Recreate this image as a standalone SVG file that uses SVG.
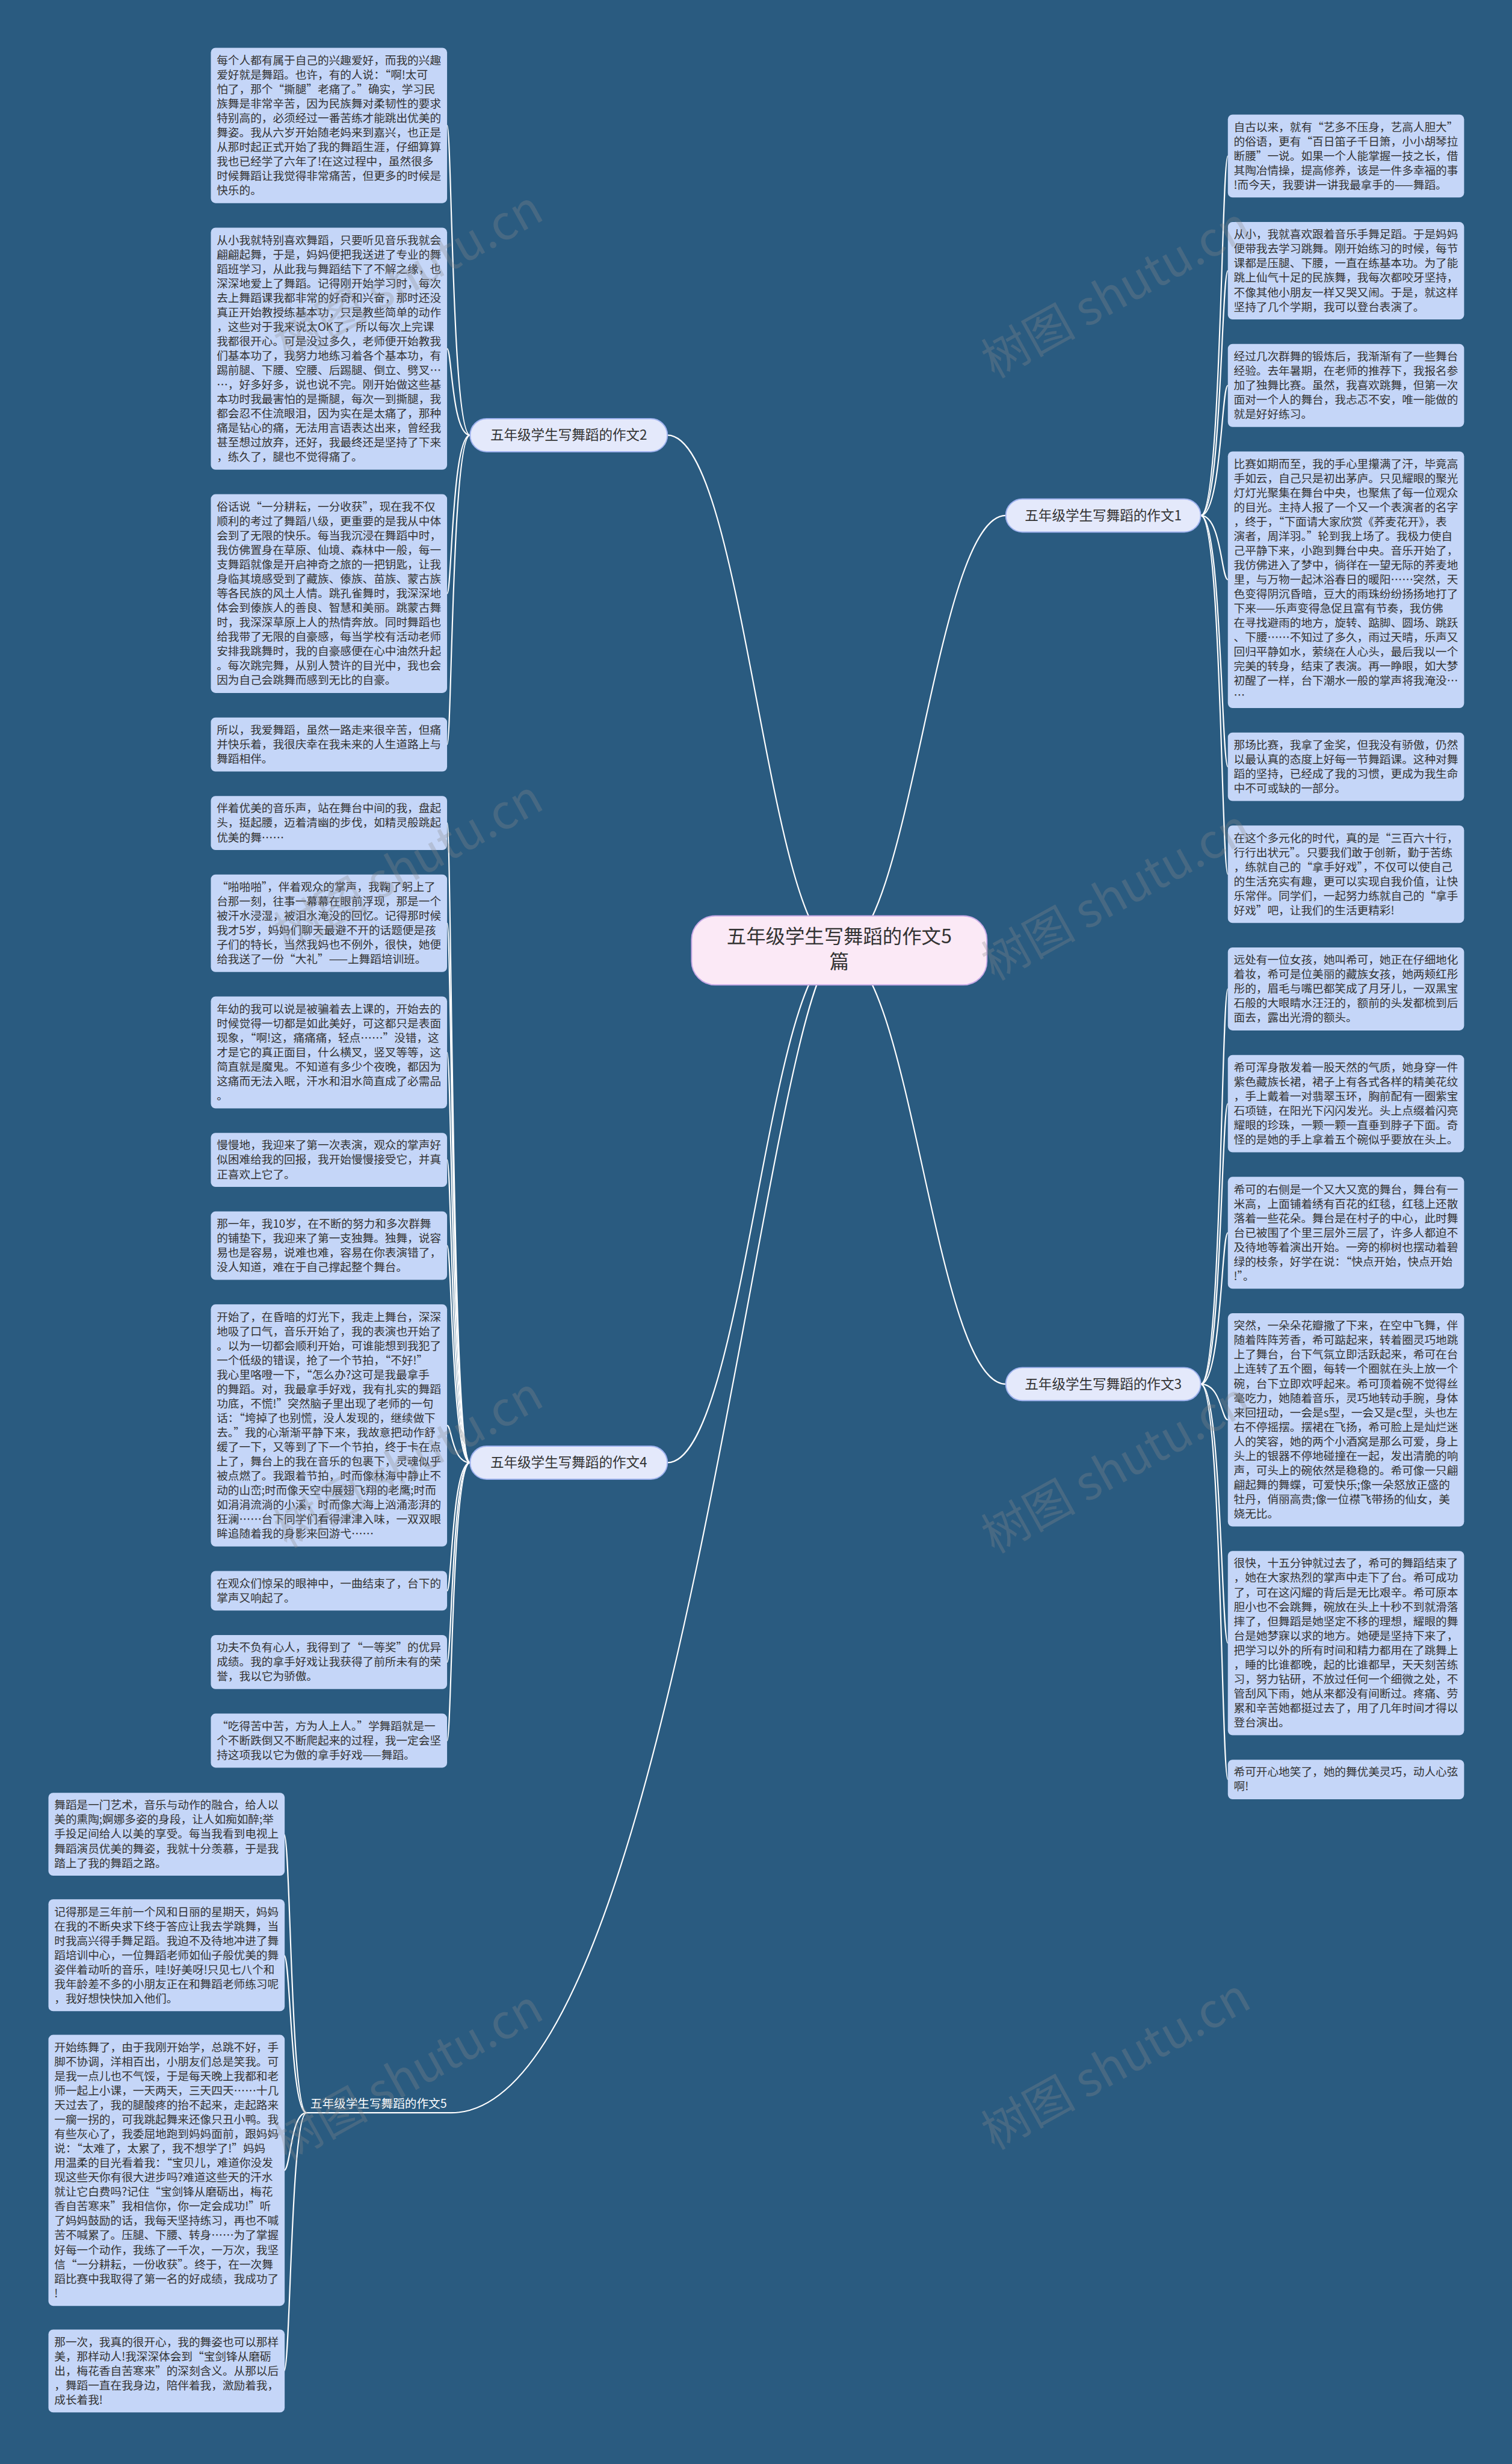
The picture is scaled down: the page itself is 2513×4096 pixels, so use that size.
<svg xmlns="http://www.w3.org/2000/svg" width="2513" height="4096" viewBox="0 0 2513 4096">
<style>
.bg{fill:#2a5b80}
.leaf rect{fill:#c5d6f8}
.leaf text{font-family:"Noto Sans CJK SC","Liberation Sans",sans-serif;font-size:19px;fill:#333}
.conn path{fill:none;stroke:#ffffff;stroke-width:2.2}
.branch rect{fill:#e4e9fb;stroke:#9fb2ee;stroke-width:2}
.branch text{font-family:"Noto Sans CJK SC","Liberation Sans",sans-serif;font-size:23px;fill:#333;text-anchor:middle}
.root rect{fill:#fbe9f6;stroke:#c7a9e6;stroke-width:2}
.root text{font-family:"Noto Sans CJK SC","Liberation Sans",sans-serif;font-size:33px;fill:#333;text-anchor:middle}
.wm text{font-family:"Noto Sans CJK SC","Liberation Sans",sans-serif;font-size:80px;fill:#8a8a8a;fill-opacity:0.3;text-anchor:middle}
</style>
<rect class="bg" x="0" y="0" width="2513" height="4096"/>
<g transform="scale(0.9816)">
<g id="connectors" class="conn">
<path d="M1421 1610 C1300 1610 1260 737 1130 737"/>
<path d="M1421 1610 C1542 1610 1582 873 1703 873"/>
<path d="M1421 1610 C1542 1610 1582 2344 1703 2344"/>
<path d="M1421 1610 C1300 1610 1260 2477 1130 2477"/>
<path d="M1421 1610 C1300 1610 1150 3578 764 3578"/>
<path d="M796 737 C765 737 765 212.5 757 212.5"/>
<path d="M796 737 C765 737 765 590.5 757 590.5"/>
<path d="M796 737 C765 737 765 1005.25 757 1005.25"/>
<path d="M796 737 C765 737 765 1260.75 757 1260.75"/>
<path d="M796 2477 C765 2477 765 1393.75 757 1393.75"/>
<path d="M796 2477 C765 2477 765 1563.5 757 1563.5"/>
<path d="M796 2477 C765 2477 765 1782.25 757 1782.25"/>
<path d="M796 2477 C765 2477 765 1964.25 757 1964.25"/>
<path d="M796 2477 C765 2477 765 2109.5 757 2109.5"/>
<path d="M796 2477 C765 2477 765 2414 757 2414"/>
<path d="M796 2477 C765 2477 765 2694 757 2694"/>
<path d="M796 2477 C765 2477 765 2814.75 757 2814.75"/>
<path d="M796 2477 C765 2477 765 2947.75 757 2947.75"/>
<path d="M2033 873 C2068 873 2068 264.25 2079 264.25"/>
<path d="M2033 873 C2068 873 2068 458.5 2079 458.5"/>
<path d="M2033 873 C2068 873 2068 652.75 2079 652.75"/>
<path d="M2033 873 C2068 873 2068 981.75 2079 981.75"/>
<path d="M2033 873 C2068 873 2068 1298.5 2079 1298.5"/>
<path d="M2033 873 C2068 873 2068 1480.5 2079 1480.5"/>
<path d="M2033 2344 C2068 2344 2068 1674.75 2079 1674.75"/>
<path d="M2033 2344 C2068 2344 2068 1869 2079 1869"/>
<path d="M2033 2344 C2068 2344 2068 2087.75 2079 2087.75"/>
<path d="M2033 2344 C2068 2344 2068 2404.5 2079 2404.5"/>
<path d="M2033 2344 C2068 2344 2068 2782.5 2079 2782.5"/>
<path d="M2033 2344 C2068 2344 2068 3013.5 2079 3013.5"/>
<path d="M519 3578 C492 3578 492 3106.25 481 3106.25"/>
<path d="M519 3578 C492 3578 492 3311.25 481 3311.25"/>
<path d="M519 3578 C492 3578 492 3675.5 481 3675.5"/>
<path d="M519 3578 C492 3578 492 4015.25 481 4015.25"/>
<path d="M519 3578 L764 3578"/>
</g>
<g id="root" class="root">
<rect x="1171" y="1551" width="500" height="117" rx="40"/>
<text x="1421" y="1597">五年级学生写舞蹈的作文5</text>
<text x="1421" y="1640">篇</text>
</g>
<g id="branch2" class="branch"><rect x="796" y="709" width="334" height="56" rx="28"/><text x="963" y="745">五年级学生写舞蹈的作文2</text></g>
<g id="branch1" class="branch"><rect x="1703" y="845" width="330" height="56" rx="28"/><text x="1868" y="881">五年级学生写舞蹈的作文1</text></g>
<g id="branch3" class="branch"><rect x="1703" y="2316" width="330" height="56" rx="28"/><text x="1868" y="2352">五年级学生写舞蹈的作文3</text></g>
<g id="branch4" class="branch"><rect x="796" y="2449" width="334" height="56" rx="28"/><text x="963" y="2485">五年级学生写舞蹈的作文4</text></g>
<g id="branch5" class="branch"><text x="641" y="3570" style="font-size:20px;fill:#ffffff">五年级学生写舞蹈的作文5</text></g>

<g id="b1" class="leaf"><rect x="357" y="81" width="400" height="263" rx="8"/><text x="367" y="108.75"><tspan x="367" dy="0">每个人都有属于自己的兴趣爱好，而我的兴趣</tspan><tspan x="367" dy="24.5">爱好就是舞蹈。也许，有的人说：“啊!太可</tspan><tspan x="367" dy="24.5">怕了，那个“撕腿”老痛了。”确实，学习民</tspan><tspan x="367" dy="24.5">族舞是非常辛苦，因为民族舞对柔韧性的要求</tspan><tspan x="367" dy="24.5">特别高的，必须经过一番苦练才能跳出优美的</tspan><tspan x="367" dy="24.5">舞姿。我从六岁开始随老妈来到嘉兴，也正是</tspan><tspan x="367" dy="24.5">从那时起正式开始了我的舞蹈生涯，仔细算算</tspan><tspan x="367" dy="24.5">我也已经学了六年了!在这过程中，虽然很多</tspan><tspan x="367" dy="24.5">时候舞蹈让我觉得非常痛苦，但更多的时候是</tspan><tspan x="367" dy="24.5">快乐的。</tspan></text></g>
<g id="b2" class="leaf"><rect x="357" y="385.5" width="400" height="410" rx="8"/><text x="367" y="413.25"><tspan x="367" dy="0">从小我就特别喜欢舞蹈，只要听见音乐我就会</tspan><tspan x="367" dy="24.5">翩翩起舞，于是，妈妈便把我送进了专业的舞</tspan><tspan x="367" dy="24.5">蹈班学习，从此我与舞蹈结下了不解之缘，也</tspan><tspan x="367" dy="24.5">深深地爱上了舞蹈。记得刚开始学习时，每次</tspan><tspan x="367" dy="24.5">去上舞蹈课我都非常的好奇和兴奋，那时还没</tspan><tspan x="367" dy="24.5">真正开始教授练基本功，只是教些简单的动作</tspan><tspan x="367" dy="24.5">，这些对于我来说太OK了，所以每次上完课</tspan><tspan x="367" dy="24.5">我都很开心。可是没过多久，老师便开始教我</tspan><tspan x="367" dy="24.5">们基本功了，我努力地练习着各个基本功，有</tspan><tspan x="367" dy="24.5">踢前腿、下腰、空腰、后踢腿、倒立、劈叉…</tspan><tspan x="367" dy="24.5">…，好多好多，说也说不完。刚开始做这些基</tspan><tspan x="367" dy="24.5">本功时我最害怕的是撕腿，每次一到撕腿，我</tspan><tspan x="367" dy="24.5">都会忍不住流眼泪，因为实在是太痛了，那种</tspan><tspan x="367" dy="24.5">痛是钻心的痛，无法用言语表达出来，曾经我</tspan><tspan x="367" dy="24.5">甚至想过放弃，还好，我最终还是坚持了下来</tspan><tspan x="367" dy="24.5">，练久了，腿也不觉得痛了。</tspan></text></g>
<g id="b3" class="leaf"><rect x="357" y="837" width="400" height="336.5" rx="8"/><text x="367" y="864.75"><tspan x="367" dy="0">俗话说“一分耕耘，一分收获”，现在我不仅</tspan><tspan x="367" dy="24.5">顺利的考过了舞蹈八级，更重要的是我从中体</tspan><tspan x="367" dy="24.5">会到了无限的快乐。每当我沉浸在舞蹈中时，</tspan><tspan x="367" dy="24.5">我仿佛置身在草原、仙境、森林中一般，每一</tspan><tspan x="367" dy="24.5">支舞蹈就像是开启神奇之旅的一把钥匙，让我</tspan><tspan x="367" dy="24.5">身临其境感受到了藏族、傣族、苗族、蒙古族</tspan><tspan x="367" dy="24.5">等各民族的风土人情。跳孔雀舞时，我深深地</tspan><tspan x="367" dy="24.5">体会到傣族人的善良、智慧和美丽。跳蒙古舞</tspan><tspan x="367" dy="24.5">时，我深深草原上人的热情奔放。同时舞蹈也</tspan><tspan x="367" dy="24.5">给我带了无限的自豪感，每当学校有活动老师</tspan><tspan x="367" dy="24.5">安排我跳舞时，我的自豪感便在心中油然升起</tspan><tspan x="367" dy="24.5">。每次跳完舞，从别人赞许的目光中，我也会</tspan><tspan x="367" dy="24.5">因为自己会跳舞而感到无比的自豪。</tspan></text></g>
<g id="b4" class="leaf"><rect x="357" y="1215" width="400" height="91.5" rx="8"/><text x="367" y="1242.75"><tspan x="367" dy="0">所以，我爱舞蹈，虽然一路走来很辛苦，但痛</tspan><tspan x="367" dy="24.5">并快乐着，我很庆幸在我未来的人生道路上与</tspan><tspan x="367" dy="24.5">舞蹈相伴。</tspan></text></g>

<g id="c1" class="leaf"><rect x="357" y="1348" width="400" height="91.5" rx="8"/><text x="367" y="1375.75"><tspan x="367" dy="0">伴着优美的音乐声，站在舞台中间的我，盘起</tspan><tspan x="367" dy="24.5">头，挺起腰，迈着清幽的步伐，如精灵般跳起</tspan><tspan x="367" dy="24.5">优美的舞……</tspan></text></g>
<g id="c2" class="leaf"><rect x="357" y="1481" width="400" height="165" rx="8"/><text x="367" y="1508.75"><tspan x="367" dy="0">“啪啪啪”，伴着观众的掌声，我鞠了躬上了</tspan><tspan x="367" dy="24.5">台那一刻，往事一幕幕在眼前浮现，那是一个</tspan><tspan x="367" dy="24.5">被汗水浸湿，被泪水淹没的回忆。记得那时候</tspan><tspan x="367" dy="24.5">我才5岁，妈妈们聊天最避不开的话题便是孩</tspan><tspan x="367" dy="24.5">子们的特长，当然我妈也不例外，很快，她便</tspan><tspan x="367" dy="24.5">给我送了一份“大礼”——上舞蹈培训班。</tspan></text></g>
<g id="c3" class="leaf"><rect x="357" y="1687.5" width="400" height="189.5" rx="8"/><text x="367" y="1715.25"><tspan x="367" dy="0">年幼的我可以说是被骗着去上课的，开始去的</tspan><tspan x="367" dy="24.5">时候觉得一切都是如此美好，可这都只是表面</tspan><tspan x="367" dy="24.5">现象，“啊!这，痛痛痛，轻点……”没错，这</tspan><tspan x="367" dy="24.5">才是它的真正面目，什么横叉，竖叉等等，这</tspan><tspan x="367" dy="24.5">简直就是魔鬼。不知道有多少个夜晚，都因为</tspan><tspan x="367" dy="24.5">这痛而无法入眠，汗水和泪水简直成了必需品</tspan><tspan x="367" dy="24.5">。</tspan></text></g>
<g id="c4" class="leaf"><rect x="357" y="1918.5" width="400" height="91.5" rx="8"/><text x="367" y="1946.25"><tspan x="367" dy="0">慢慢地，我迎来了第一次表演，观众的掌声好</tspan><tspan x="367" dy="24.5">似困难给我的回报，我开始慢慢接受它，并真</tspan><tspan x="367" dy="24.5">正喜欢上它了。</tspan></text></g>
<g id="c5" class="leaf"><rect x="357" y="2051.5" width="400" height="116" rx="8"/><text x="367" y="2079.25"><tspan x="367" dy="0">那一年，我10岁，在不断的努力和多次群舞</tspan><tspan x="367" dy="24.5">的铺垫下，我迎来了第一支独舞。独舞，说容</tspan><tspan x="367" dy="24.5">易也是容易，说难也难，容易在你表演错了，</tspan><tspan x="367" dy="24.5">没人知道，难在于自己撑起整个舞台。</tspan></text></g>
<g id="c6" class="leaf"><rect x="357" y="2209" width="400" height="410" rx="8"/><text x="367" y="2236.75"><tspan x="367" dy="0">开始了，在昏暗的灯光下，我走上舞台，深深</tspan><tspan x="367" dy="24.5">地吸了口气，音乐开始了，我的表演也开始了</tspan><tspan x="367" dy="24.5">。以为一切都会顺利开始，可谁能想到我犯了</tspan><tspan x="367" dy="24.5">一个低级的错误，抢了一个节拍，“不好!”</tspan><tspan x="367" dy="24.5">我心里咯噔一下，“怎么办?这可是我最拿手</tspan><tspan x="367" dy="24.5">的舞蹈。对，我最拿手好戏，我有扎实的舞蹈</tspan><tspan x="367" dy="24.5">功底，不慌!”突然脑子里出现了老师的一句</tspan><tspan x="367" dy="24.5">话：“垮掉了也别慌，没人发现的，继续做下</tspan><tspan x="367" dy="24.5">去。”我的心渐渐平静下来，我故意把动作舒</tspan><tspan x="367" dy="24.5">缓了一下，又等到了下一个节拍，终于卡在点</tspan><tspan x="367" dy="24.5">上了，舞台上的我在音乐的包裹下，灵魂似乎</tspan><tspan x="367" dy="24.5">被点燃了。我跟着节拍，时而像林海中静止不</tspan><tspan x="367" dy="24.5">动的山峦;时而像天空中展翅飞翔的老鹰;时而</tspan><tspan x="367" dy="24.5">如涓涓流淌的小溪，时而像大海上汹涌澎湃的</tspan><tspan x="367" dy="24.5">狂澜……台下同学们看得津津入味，一双双眼</tspan><tspan x="367" dy="24.5">眸追随着我的身影来回游弋……</tspan></text></g>
<g id="c7" class="leaf"><rect x="357" y="2660.5" width="400" height="67" rx="8"/><text x="367" y="2688.25"><tspan x="367" dy="0">在观众们惊呆的眼神中，一曲结束了，台下的</tspan><tspan x="367" dy="24.5">掌声又响起了。</tspan></text></g>
<g id="c8" class="leaf"><rect x="357" y="2769" width="400" height="91.5" rx="8"/><text x="367" y="2796.75"><tspan x="367" dy="0">功夫不负有心人，我得到了“一等奖”的优异</tspan><tspan x="367" dy="24.5">成绩。我的拿手好戏让我获得了前所未有的荣</tspan><tspan x="367" dy="24.5">誉，我以它为骄傲。</tspan></text></g>
<g id="c9" class="leaf"><rect x="357" y="2902" width="400" height="91.5" rx="8"/><text x="367" y="2929.75"><tspan x="367" dy="0">“吃得苦中苦，方为人上人。”学舞蹈就是一</tspan><tspan x="367" dy="24.5">个不断跌倒又不断爬起来的过程，我一定会坚</tspan><tspan x="367" dy="24.5">持这项我以它为傲的拿手好戏——舞蹈。</tspan></text></g>

<g id="r1" class="leaf"><rect x="2079" y="194" width="400" height="140.5" rx="8"/><text x="2089" y="221.75"><tspan x="2089" dy="0">自古以来，就有“艺多不压身，艺高人胆大”</tspan><tspan x="2089" dy="24.5">的俗语，更有“百日笛子千日箫，小小胡琴拉</tspan><tspan x="2089" dy="24.5">断腰”一说。如果一个人能掌握一技之长，借</tspan><tspan x="2089" dy="24.5">其陶冶情操，提高修养，该是一件多幸福的事</tspan><tspan x="2089" dy="24.5">!而今天，我要讲一讲我最拿手的——舞蹈。</tspan></text></g>
<g id="r2" class="leaf"><rect x="2079" y="376" width="400" height="165" rx="8"/><text x="2089" y="403.75"><tspan x="2089" dy="0">从小，我就喜欢跟着音乐手舞足蹈。于是妈妈</tspan><tspan x="2089" dy="24.5">便带我去学习跳舞。刚开始练习的时候，每节</tspan><tspan x="2089" dy="24.5">课都是压腿、下腰，一直在练基本功。为了能</tspan><tspan x="2089" dy="24.5">跳上仙气十足的民族舞，我每次都咬牙坚持，</tspan><tspan x="2089" dy="24.5">不像其他小朋友一样又哭又闹。于是，就这样</tspan><tspan x="2089" dy="24.5">坚持了几个学期，我可以登台表演了。</tspan></text></g>
<g id="r3" class="leaf"><rect x="2079" y="582.5" width="400" height="140.5" rx="8"/><text x="2089" y="610.25"><tspan x="2089" dy="0">经过几次群舞的锻炼后，我渐渐有了一些舞台</tspan><tspan x="2089" dy="24.5">经验。去年暑期，在老师的推荐下，我报名参</tspan><tspan x="2089" dy="24.5">加了独舞比赛。虽然，我喜欢跳舞，但第一次</tspan><tspan x="2089" dy="24.5">面对一个人的舞台，我忐忑不安，唯一能做的</tspan><tspan x="2089" dy="24.5">就是好好练习。</tspan></text></g>
<g id="r4" class="leaf"><rect x="2079" y="764.5" width="400" height="434.5" rx="8"/><text x="2089" y="792.25"><tspan x="2089" dy="0">比赛如期而至，我的手心里攥满了汗，毕竟高</tspan><tspan x="2089" dy="24.5">手如云，自己只是初出茅庐。只见耀眼的聚光</tspan><tspan x="2089" dy="24.5">灯灯光聚集在舞台中央，也聚焦了每一位观众</tspan><tspan x="2089" dy="24.5">的目光。主持人报了一个又一个表演者的名字</tspan><tspan x="2089" dy="24.5">，终于，“下面请大家欣赏《荞麦花开》，表</tspan><tspan x="2089" dy="24.5">演者，周洋羽。”轮到我上场了。我极力使自</tspan><tspan x="2089" dy="24.5">己平静下来，小跑到舞台中央。音乐开始了，</tspan><tspan x="2089" dy="24.5">我仿佛进入了梦中，徜徉在一望无际的荞麦地</tspan><tspan x="2089" dy="24.5">里，与万物一起沐浴春日的暖阳……突然，天</tspan><tspan x="2089" dy="24.5">色变得阴沉昏暗，豆大的雨珠纷纷扬扬地打了</tspan><tspan x="2089" dy="24.5">下来——乐声变得急促且富有节奏，我仿佛</tspan><tspan x="2089" dy="24.5">在寻找避雨的地方，旋转、踮脚、圆场、跳跃</tspan><tspan x="2089" dy="24.5">、下腰……不知过了多久，雨过天晴，乐声又</tspan><tspan x="2089" dy="24.5">回归平静如水，萦绕在人心头，最后我以一个</tspan><tspan x="2089" dy="24.5">完美的转身，结束了表演。再一睁眼，如大梦</tspan><tspan x="2089" dy="24.5">初醒了一样，台下潮水一般的掌声将我淹没…</tspan><tspan x="2089" dy="24.5">…</tspan></text></g>
<g id="r5" class="leaf"><rect x="2079" y="1240.5" width="400" height="116" rx="8"/><text x="2089" y="1268.25"><tspan x="2089" dy="0">那场比赛，我拿了金奖，但我没有骄傲，仍然</tspan><tspan x="2089" dy="24.5">以最认真的态度上好每一节舞蹈课。这种对舞</tspan><tspan x="2089" dy="24.5">蹈的坚持，已经成了我的习惯，更成为我生命</tspan><tspan x="2089" dy="24.5">中不可或缺的一部分。</tspan></text></g>
<g id="r6" class="leaf"><rect x="2079" y="1398" width="400" height="165" rx="8"/><text x="2089" y="1425.75"><tspan x="2089" dy="0">在这个多元化的时代，真的是“三百六十行，</tspan><tspan x="2089" dy="24.5">行行出状元”。只要我们敢于创新，勤于苦练</tspan><tspan x="2089" dy="24.5">，练就自己的“拿手好戏”，不仅可以使自己</tspan><tspan x="2089" dy="24.5">的生活充实有趣，更可以实现自我价值，让快</tspan><tspan x="2089" dy="24.5">乐常伴。同学们，一起努力练就自己的“拿手</tspan><tspan x="2089" dy="24.5">好戏”吧，让我们的生活更精彩!</tspan></text></g>

<g id="s1" class="leaf"><rect x="2079" y="1604.5" width="400" height="140.5" rx="8"/><text x="2089" y="1632.25"><tspan x="2089" dy="0">远处有一位女孩，她叫希可，她正在仔细地化</tspan><tspan x="2089" dy="24.5">着妆，希可是位美丽的藏族女孩，她两颊红彤</tspan><tspan x="2089" dy="24.5">彤的，眉毛与嘴巴都笑成了月牙儿，一双黑宝</tspan><tspan x="2089" dy="24.5">石般的大眼睛水汪汪的，额前的头发都梳到后</tspan><tspan x="2089" dy="24.5">面去，露出光滑的额头。</tspan></text></g>
<g id="s2" class="leaf"><rect x="2079" y="1786.5" width="400" height="165" rx="8"/><text x="2089" y="1814.25"><tspan x="2089" dy="0">希可浑身散发着一股天然的气质，她身穿一件</tspan><tspan x="2089" dy="24.5">紫色藏族长裙，裙子上有各式各样的精美花纹</tspan><tspan x="2089" dy="24.5">，手上戴着一对翡翠玉环，胸前配有一圈紫宝</tspan><tspan x="2089" dy="24.5">石项链，在阳光下闪闪发光。头上点缀着闪亮</tspan><tspan x="2089" dy="24.5">耀眼的珍珠，一颗一颗一直垂到脖子下面。奇</tspan><tspan x="2089" dy="24.5">怪的是她的手上拿着五个碗似乎要放在头上。</tspan></text></g>
<g id="s3" class="leaf"><rect x="2079" y="1993" width="400" height="189.5" rx="8"/><text x="2089" y="2020.75"><tspan x="2089" dy="0">希可的右侧是一个又大又宽的舞台，舞台有一</tspan><tspan x="2089" dy="24.5">米高，上面铺着绣有百花的红毯，红毯上还散</tspan><tspan x="2089" dy="24.5">落着一些花朵。舞台是在村子的中心，此时舞</tspan><tspan x="2089" dy="24.5">台已被围了个里三层外三层了，许多人都迫不</tspan><tspan x="2089" dy="24.5">及待地等着演出开始。一旁的柳树也摆动着碧</tspan><tspan x="2089" dy="24.5">绿的枝条，好学在说：“快点开始，快点开始</tspan><tspan x="2089" dy="24.5">!”。</tspan></text></g>
<g id="s4" class="leaf"><rect x="2079" y="2224" width="400" height="361" rx="8"/><text x="2089" y="2251.75"><tspan x="2089" dy="0">突然，一朵朵花瓣撒了下来，在空中飞舞，伴</tspan><tspan x="2089" dy="24.5">随着阵阵芳香，希可踮起来，转着圈灵巧地跳</tspan><tspan x="2089" dy="24.5">上了舞台，台下气氛立即活跃起来，希可在台</tspan><tspan x="2089" dy="24.5">上连转了五个圈，每转一个圈就在头上放一个</tspan><tspan x="2089" dy="24.5">碗，台下立即欢呼起来。希可顶着碗不觉得丝</tspan><tspan x="2089" dy="24.5">毫吃力，她随着音乐，灵巧地转动手腕，身体</tspan><tspan x="2089" dy="24.5">来回扭动，一会是s型，一会又是c型，头也左</tspan><tspan x="2089" dy="24.5">右不停摇摆。摆裙在飞扬，希可脸上是灿烂迷</tspan><tspan x="2089" dy="24.5">人的笑容，她的两个小酒窝是那么可爱，身上</tspan><tspan x="2089" dy="24.5">头上的银器不停地碰撞在一起，发出清脆的响</tspan><tspan x="2089" dy="24.5">声，可头上的碗依然是稳稳的。希可像一只翩</tspan><tspan x="2089" dy="24.5">翩起舞的舞蝶，可爱快乐;像一朵怒放正盛的</tspan><tspan x="2089" dy="24.5">牡丹，俏丽高贵;像一位襟飞带扬的仙女，美</tspan><tspan x="2089" dy="24.5">娆无比。</tspan></text></g>
<g id="s5" class="leaf"><rect x="2079" y="2626.5" width="400" height="312" rx="8"/><text x="2089" y="2654.25"><tspan x="2089" dy="0">很快，十五分钟就过去了，希可的舞蹈结束了</tspan><tspan x="2089" dy="24.5">，她在大家热烈的掌声中走下了台。希可成功</tspan><tspan x="2089" dy="24.5">了，可在这闪耀的背后是无比艰辛。希可原本</tspan><tspan x="2089" dy="24.5">胆小也不会跳舞，碗放在头上十秒不到就滑落</tspan><tspan x="2089" dy="24.5">摔了，但舞蹈是她坚定不移的理想，耀眼的舞</tspan><tspan x="2089" dy="24.5">台是她梦寐以求的地方。她硬是坚持下来了，</tspan><tspan x="2089" dy="24.5">把学习以外的所有时间和精力都用在了跳舞上</tspan><tspan x="2089" dy="24.5">，睡的比谁都晚，起的比谁都早，天天刻苦练</tspan><tspan x="2089" dy="24.5">习，努力钻研，不放过任何一个细微之处，不</tspan><tspan x="2089" dy="24.5">管刮风下雨，她从来都没有间断过。疼痛、劳</tspan><tspan x="2089" dy="24.5">累和辛苦她都挺过去了，用了几年时间才得以</tspan><tspan x="2089" dy="24.5">登台演出。</tspan></text></g>
<g id="s6" class="leaf"><rect x="2079" y="2980" width="400" height="67" rx="8"/><text x="2089" y="3007.75"><tspan x="2089" dy="0">希可开心地笑了，她的舞优美灵巧，动人心弦</tspan><tspan x="2089" dy="24.5">啊!</tspan></text></g>

<g id="d1" class="leaf"><rect x="82" y="3036" width="400" height="140.5" rx="8"/><text x="92" y="3063.75"><tspan x="92" dy="0">舞蹈是一门艺术，音乐与动作的融合，给人以</tspan><tspan x="92" dy="24.5">美的熏陶;婀娜多姿的身段，让人如痴如醉;举</tspan><tspan x="92" dy="24.5">手投足间给人以美的享受。每当我看到电视上</tspan><tspan x="92" dy="24.5">舞蹈演员优美的舞姿，我就十分羡慕，于是我</tspan><tspan x="92" dy="24.5">踏上了我的舞蹈之路。</tspan></text></g>
<g id="d2" class="leaf"><rect x="82" y="3216.5" width="400" height="189.5" rx="8"/><text x="92" y="3244.25"><tspan x="92" dy="0">记得那是三年前一个风和日丽的星期天，妈妈</tspan><tspan x="92" dy="24.5">在我的不断央求下终于答应让我去学跳舞，当</tspan><tspan x="92" dy="24.5">时我高兴得手舞足蹈。我迫不及待地冲进了舞</tspan><tspan x="92" dy="24.5">蹈培训中心，一位舞蹈老师如仙子般优美的舞</tspan><tspan x="92" dy="24.5">姿伴着动听的音乐，哇!好美呀!只见七八个和</tspan><tspan x="92" dy="24.5">我年龄差不多的小朋友正在和舞蹈老师练习呢</tspan><tspan x="92" dy="24.5">，我好想快快加入他们。</tspan></text></g>
<g id="d3" class="leaf"><rect x="82" y="3446" width="400" height="459" rx="8"/><text x="92" y="3473.75"><tspan x="92" dy="0">开始练舞了，由于我刚开始学，总跳不好，手</tspan><tspan x="92" dy="24.5">脚不协调，洋相百出，小朋友们总是笑我。可</tspan><tspan x="92" dy="24.5">是我一点儿也不气馁，于是每天晚上我都和老</tspan><tspan x="92" dy="24.5">师一起上小课，一天两天，三天四天……十几</tspan><tspan x="92" dy="24.5">天过去了，我的腿酸疼的抬不起来，走起路来</tspan><tspan x="92" dy="24.5">一瘸一拐的，可我跳起舞来还像只丑小鸭。我</tspan><tspan x="92" dy="24.5">有些灰心了，我委屈地跑到妈妈面前，跟妈妈</tspan><tspan x="92" dy="24.5">说：“太难了，太累了，我不想学了!”妈妈</tspan><tspan x="92" dy="24.5">用温柔的目光看着我：“宝贝儿，难道你没发</tspan><tspan x="92" dy="24.5">现这些天你有很大进步吗?难道这些天的汗水</tspan><tspan x="92" dy="24.5">就让它白费吗?记住“宝剑锋从磨砺出，梅花</tspan><tspan x="92" dy="24.5">香自苦寒来”我相信你，你一定会成功!”听</tspan><tspan x="92" dy="24.5">了妈妈鼓励的话，我每天坚持练习，再也不喊</tspan><tspan x="92" dy="24.5">苦不喊累了。压腿、下腰、转身……为了掌握</tspan><tspan x="92" dy="24.5">好每一个动作，我练了一千次，一万次，我坚</tspan><tspan x="92" dy="24.5">信“一分耕耘，一份收获”。终于，在一次舞</tspan><tspan x="92" dy="24.5">蹈比赛中我取得了第一名的好成绩，我成功了</tspan><tspan x="92" dy="24.5">!</tspan></text></g>
<g id="d4" class="leaf"><rect x="82" y="3945" width="400" height="140.5" rx="8"/><text x="92" y="3972.75"><tspan x="92" dy="0">那一次，我真的很开心，我的舞姿也可以那样</tspan><tspan x="92" dy="24.5">美，那样动人!我深深体会到“宝剑锋从磨砺</tspan><tspan x="92" dy="24.5">出，梅花香自苦寒来”的深刻含义。从那以后</tspan><tspan x="92" dy="24.5">，舞蹈一直在我身边，陪伴着我，激励着我，</tspan><tspan x="92" dy="24.5">成长着我!</tspan></text></g>

<g id="watermarks" class="wm">
<text transform="translate(705 492) rotate(-29)">树图 shutu.cn</text>
<text transform="translate(1903 520) rotate(-29)">树图 shutu.cn</text>
<text transform="translate(705 1490) rotate(-29)">树图 shutu.cn</text>
<text transform="translate(1903 1540) rotate(-29)">树图 shutu.cn</text>
<text transform="translate(705 2501) rotate(-29)">树图 shutu.cn</text>
<text transform="translate(1903 2510) rotate(-29)">树图 shutu.cn</text>
<text transform="translate(705 3539) rotate(-29)">树图 shutu.cn</text>
<text transform="translate(1903 3520) rotate(-29)">树图 shutu.cn</text>
</g>
</g>
</svg>
